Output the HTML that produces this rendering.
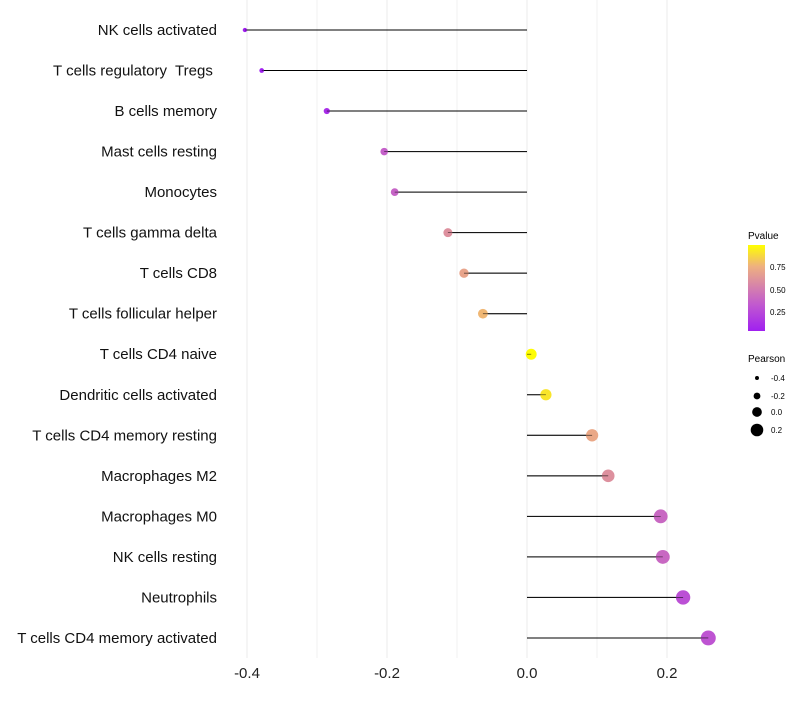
<!DOCTYPE html>
<html><head><meta charset="utf-8"><style>
body{margin:0;background:#fff;font-family:"Liberation Sans",sans-serif}
text{white-space:pre}
</style></head><body>
<svg id="chart" width="800" height="700" xmlns="http://www.w3.org/2000/svg">
<defs>
<linearGradient id="pg" x1="0" y1="1" x2="0" y2="0">
<stop offset="0" stop-color="#a020f0"/>
<stop offset="0.3" stop-color="#c058d0"/>
<stop offset="0.5" stop-color="#d47fae"/>
<stop offset="0.75" stop-color="#eeb080"/>
<stop offset="1" stop-color="#ffff00"/>
</linearGradient>
</defs>
<g id="grid"></g>
<g id="marks"></g>
<g id="labels"></g>
<g id="legend">
<text x="748" y="239" font-size="10">Pvalue</text>
<rect x="748" y="245" width="17" height="86" fill="url(#pg)"/>
<text x="770" y="270" font-size="8">0.75</text>
<text x="770" y="293" font-size="8">0.50</text>
<text x="770" y="315" font-size="8">0.25</text>
<text x="748" y="362" font-size="10">Pearson</text>
</g>
</svg>
<script>
const categories=["NK cells activated","T cells regulatory  Tregs ","B cells memory","Mast cells resting","Monocytes","T cells gamma delta","T cells CD8","T cells follicular helper","T cells CD4 naive","Dendritic cells activated","T cells CD4 memory resting","Macrophages M2","Macrophages M0","NK cells resting","Neutrophils","T cells CD4 memory activated"];
const pearson=[-0.403,-0.379,-0.286,-0.204,-0.189,-0.113,-0.090,-0.063,0.006,0.027,0.093,0.116,0.191,0.194,0.223,0.259];
const pvalues=[0.02,0.03,0.1,0.36,0.38,0.6,0.7,0.78,0.99,0.92,0.72,0.6,0.4,0.4,0.28,0.3];
const xTicks=[-0.4,-0.2,0.0,0.2];
const xMinor=[-0.3,-0.1,0.1];
const legendVals=[-0.4,-0.2,0.0,0.2];
const NS="http://www.w3.org/2000/svg";
const xs=v=>527+v*700;
const ys=i=>30+i*40.53;
const rs=v=>2.2+(v+0.4)*8;
function col(p){
 const st=[[0,[160,32,240]],[0.3,[192,88,208]],[0.5,[212,127,174]],[0.75,[238,176,128]],[1,[255,255,0]]];
 const t=(p-0.03)/0.97;
 for(let k=1;k<st.length;k++){if(t<=st[k][0]||k==st.length-1){const a=st[k-1],b=st[k];let f=(t-a[0])/(b[0]-a[0]);f=Math.max(0,Math.min(1,f));return `rgb(${a[1].map((c,j)=>Math.round(c+(b[1][j]-c)*f)).join(',')})`;}}
}
function mk(tag,attrs,parent){const e=document.createElementNS(NS,tag);for(const k in attrs)e.setAttribute(k,attrs[k]);parent.appendChild(e);return e;}
const grid=document.getElementById('grid'),marks=document.getElementById('marks'),labels=document.getElementById('labels'),legend=document.getElementById('legend');
xMinor.forEach(v=>{const l=mk('line',{x1:xs(v),x2:xs(v),y1:0,y2:658,stroke:'#f0f0f0','stroke-width':1},grid);

});
xTicks.forEach(v=>{const l=mk('line',{x1:xs(v),x2:xs(v),y1:0,y2:658,stroke:'#ebebeb','stroke-width':1},grid);


const t=mk('text',{x:xs(v),y:678,'font-size':15,'text-anchor':'middle',fill:'#222'},labels);t.textContent=v.toFixed(1);

});
categories.forEach((c,i)=>{
 const y=ys(i);
 const t=mk('text',{x:217,y:y+5,'font-size':15,'text-anchor':'end',fill:'#111'},labels);t.textContent=c;
 
 
 const l=mk('line',{x1:xs(0),x2:xs(pearson[i]),y1:y,y2:y,stroke:'#000','stroke-width':1},marks);
 
 
 const d=mk('circle',{cx:xs(pearson[i]),cy:y,r:rs(pearson[i]),fill:col(pvalues[i])},marks);
 
 
 mk('line',{x1:xs(0),x2:xs(pearson[i]),y1:y,y2:y,stroke:'#000','stroke-width':0.8,'stroke-opacity':0.6},marks);
});
const ly=[378,396,412,430];
legendVals.forEach((v,i)=>{
 const d=mk('circle',{cx:757,cy:ly[i],r:rs(v)*0.9,fill:'#000'},legend);
 
 
 const t=mk('text',{x:771,y:ly[i]+3,'font-size':8},legend);t.textContent=v.toFixed(1);
 
 
});
</script>
</body></html>
